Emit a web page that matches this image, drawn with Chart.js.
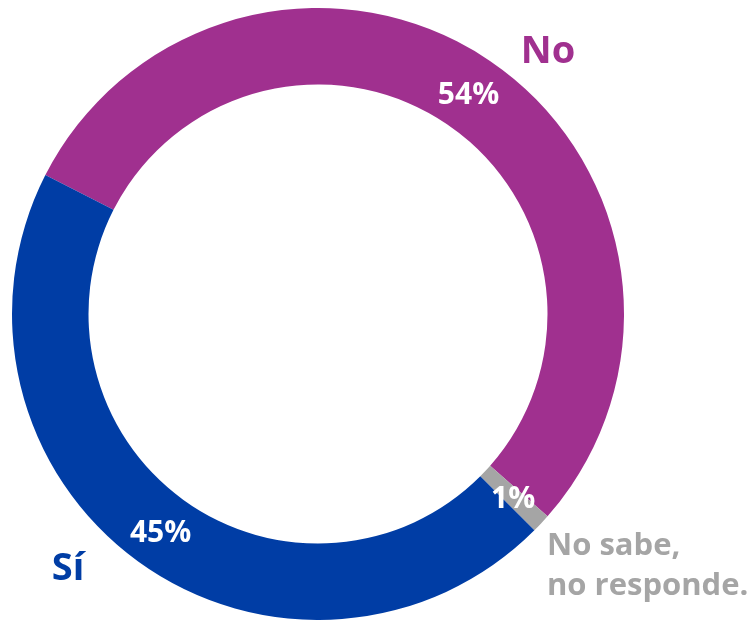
<!DOCTYPE html>
<html><head><meta charset="utf-8">
<script src="https://cdn.jsdelivr.net/npm/chart.js@4/dist/chart.umd.min.js"></script>
<style>html,body{margin:0;padding:0;background:#fff}#wrap{width:754px;height:620px}</style>
</head><body><div id="wrap"><canvas id="c" width="754" height="620"></canvas></div>
<script>
const categories = ["No", "No sabe,\nno responde.", "Sí"];
const values = [54, 1, 45];
const valueLabels = ["54%", "1%", "45%"];
const colors = ["#A0308F", "#A5A5A5", "#003DA5"];
const textColors = ["#A0308F", "#A5A5A5", "#003DA5"];

const FONT = "'Open Sans', Lato, sans-serif";

const labelPlugin = {
  id: 'labels',
  afterDatasetsDraw(chart) {
    const ctx = chart.ctx;
    const meta = chart.getDatasetMeta(0);
    ctx.save();
    ctx.textAlign = 'center';
    ctx.textBaseline = 'alphabetic';
    ctx.fillStyle = '#fff';
    ctx.font = "bold 30px " + FONT;
    meta.data.forEach((arc, i) => {
      const p = arc.tooltipPosition();
      ctx.fillText(valueLabels[i], p.x, p.y + 11);
    });
    // outer category labels
    const a0 = meta.data[0];
    const cx = a0.x, cy = a0.y;
    ctx.font = "bold 38px " + FONT;
    ctx.fillStyle = textColors[0];
    ctx.fillText(categories[0], cx + 230, cy - 251);
    ctx.fillStyle = textColors[2];
    ctx.fillText(categories[2], cx - 250, cy + 266);
    ctx.fillStyle = textColors[1];
    ctx.font = "bold 31px " + FONT;
    ctx.textAlign = 'left';
    const lines = categories[1].split("\n");
    lines.forEach((l, k) => ctx.fillText(l, cx + 229, cy + 241 + k * 40));
    ctx.restore();
  }
};

new Chart(document.getElementById('c'), {
  type: 'doughnut',
  data: {
    labels: categories,
    datasets: [{ data: values, backgroundColor: colors, borderWidth: 0 }]
  },
  options: {
    responsive: false,
    animation: false,
    rotation: -63,
    cutout: '75%',
    layout: { padding: { left: 12, right: 130, top: 8, bottom: 0 } },
    plugins: { legend: { display: false }, tooltip: { enabled: false } }
  },
  plugins: [labelPlugin]
});
</script></body></html>
